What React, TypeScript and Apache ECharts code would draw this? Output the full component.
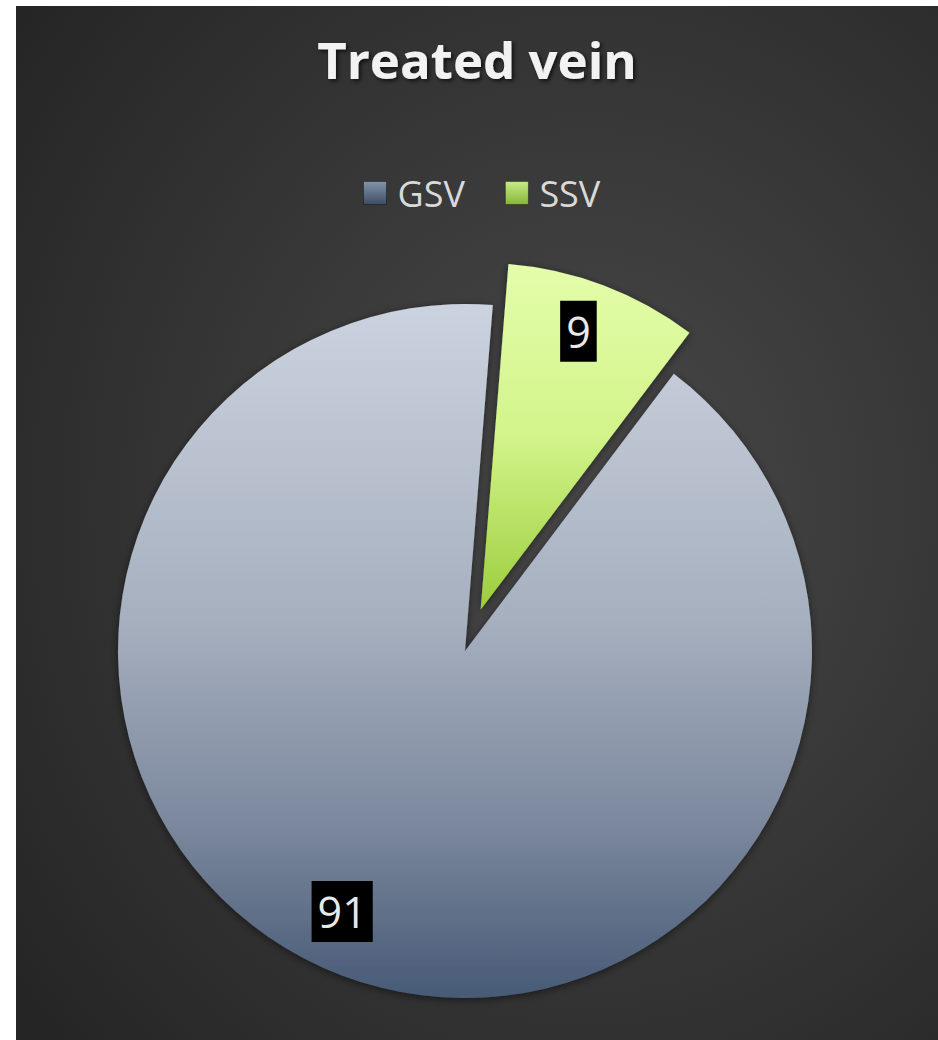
import React, { useEffect, useRef } from 'react';
import * as echarts from 'echarts';

const titleText = 'Treated vein';
const categories = ['GSV', 'SSV'];
const values = [91, 9];
const explodedCategory = 'SSV';

const fills: Record<string, any> = {
  GSV: new echarts.graphic.LinearGradient(0, 0, 0, 1, [
    { offset: 0, color: '#cbd3df' },
    { offset: 0.45, color: '#a7b0bf' },
    { offset: 0.75, color: '#7b889d' },
    { offset: 1, color: '#475a76' },
  ]),
  SSV: new echarts.graphic.LinearGradient(0, 0, 0, 1, [
    { offset: 0, color: '#e4fdaa' },
    { offset: 0.5, color: '#d2f48a' },
    { offset: 1, color: '#9ccd3c' },
  ]),
};

const legendFills: Record<string, any> = {
  GSV: new echarts.graphic.LinearGradient(0, 0, 0, 1, [
    { offset: 0, color: '#8494aa' },
    { offset: 1, color: '#3c4d64' },
  ]),
  SSV: new echarts.graphic.LinearGradient(0, 0, 0, 1, [
    { offset: 0, color: '#c6ec86' },
    { offset: 1, color: '#86b63a' },
  ]),
};

const labelOffsets: Record<string, number[]> = {
  GSV: [-17, -18],
  SSV: [-8, 0],
};

export default function App() {
  const ref = useRef<HTMLDivElement>(null);
  useEffect(() => {
    const chart = echarts.init(ref.current!, null, { renderer: 'svg' });
    const mainData = categories.map((name, i) => ({
      name,
      value: values[i],
      selected: name === explodedCategory,
      itemStyle: { color: fills[name] },
      select: { itemStyle: { color: fills[name] } },
    }));
    const labelData = categories.map((name, i) => ({
      name,
      value: values[i],
      selected: name === explodedCategory,
      label: { offset: labelOffsets[name] },
      select: { label: { offset: labelOffsets[name] } },
    }));
    chart.setOption({
      animation: false,
      backgroundColor: 'transparent',
      graphic: [
        {
          type: 'rect',
          z: -10,
          silent: true,
          shape: { x: 0, y: 0, width: 922, height: 1034 },
          style: {
            fill: new echarts.graphic.RadialGradient(0.62, 0.48, 0.78, [
              { offset: 0, color: '#494949' },
              { offset: 1, color: '#252525' },
            ]),
          },
        },
      ],
      title: {
        text: titleText,
        left: 'center',
        top: 22,
        textStyle: {
          fontFamily: 'Open Sans',
          fontWeight: 'bold',
          fontSize: 51,
          color: '#f2f2f2',
          textShadowColor: 'rgba(0,0,0,0.7)',
          textShadowBlur: 4,
          textShadowOffsetX: 2,
          textShadowOffsetY: 2,
        },
      },
      legend: {
        top: 164,
        left: 342,
        itemWidth: 23,
        itemHeight: 23,
        itemGap: 40,
        icon: 'rect',
        selectedMode: false,
        textStyle: {
          fontFamily: 'Open Sans',
          fontSize: 36,
          color: '#d9d9d9',
          padding: [0, 0, 0, 6],
        },
        data: categories.map((name) => ({
          name,
          itemStyle: { color: legendFills[name], borderColor: 'rgba(0,0,0,0.35)', borderWidth: 1 },
        })),
      },
      series: [
        {
          type: 'pie',
          center: [449, 645],
          radius: 347,
          startAngle: 53,
          clockwise: true,
          selectedMode: 'multiple',
          selectedOffset: 44,
          silent: true,
          label: { show: false },
          labelLine: { show: false },
          itemStyle: {
            shadowBlur: 8,
            shadowColor: 'rgba(0,0,0,0.5)',
            shadowOffsetY: 2,
          },
          data: mainData,
        },
        {
          type: 'pie',
          center: [449, 645],
          radius: [243, 347],
          startAngle: 53,
          clockwise: true,
          selectedMode: 'multiple',
          selectedOffset: 44,
          silent: true,
          z: 5,
          itemStyle: { color: 'transparent' },
          select: { itemStyle: { color: 'transparent' } },
          labelLine: { show: false },
          label: {
            show: true,
            position: 'inside',
            formatter: '{c}',
            fontFamily: 'Open Sans',
            fontSize: 43,
            lineHeight: 53,
            color: '#e8e8e8',
            backgroundColor: '#000',
            padding: [4, 6],
          },
          data: labelData,
        },
      ],
    });
    return () => chart.dispose();
  }, []);
  return (
    <div
      ref={ref}
      style={{ position: 'absolute', left: 16, top: 6, width: 922, height: 1034 }}
    />
  );
}
